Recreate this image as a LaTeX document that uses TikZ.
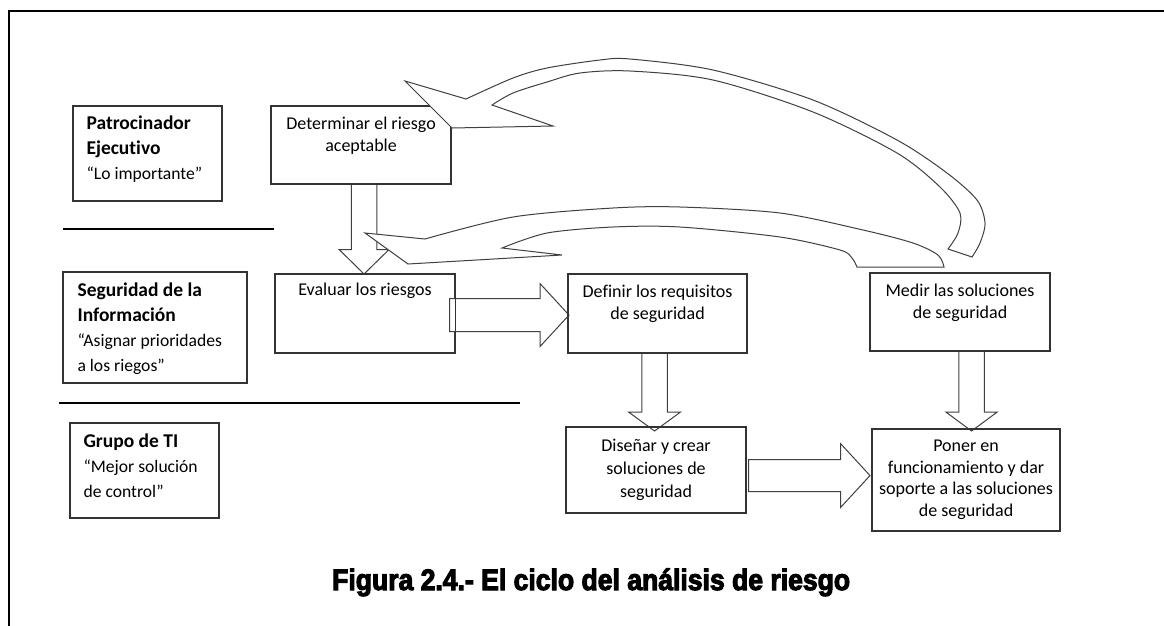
\documentclass[tikz,border=0pt]{standalone}
\usepackage{fontspec}
\setmainfont{Carlito}[Ligatures={NoCommon}]
\newfontfamily\capfont{Liberation Sans}[FakeStretch=0.9,FakeBold=3.5]
\usetikzlibrary{calc}
\newcommand\ctext[5]{\parbox[t][#2pt][t]{#1pt}{\fontsize{18}{#4pt}\selectfont\centering\rule{0pt}{#3pt}#5\par}}
\newcommand\ltext[5]{\parbox[t][#2pt][t]{#1pt}{\raggedright\leftskip=#4pt\fontsize{17.6}{25pt}\selectfont\rule{0pt}{#3pt}#5\par}}
\newcommand\hblk[5]{\draw[blk] let \p1=(#1), \p2=(#2) in (\x1,\y2-#3) -- (\x2-#5,\y2-#3) -- (\x2-#5,\y2-#4) -- (\x2,\y2) -- (\x2-#5,\y2+#4) -- (\x2-#5,\y2+#3) -- (\x1,\y2+#3) -- cycle;}
\newcommand\vblk[5]{\draw[blk] let \p1=(#1), \p2=(#2) in (\x2-#3,\y1) -- (\x2-#3,\y2+#5) -- (\x2-#4,\y2+#5) -- (\x2,\y2) -- (\x2+#4,\y2+#5) -- (\x2+#3,\y2+#5) -- (\x2+#3,\y1) -- cycle;}
\tikzset{
  bx/.style={draw=black!80, line width=1.1pt, rectangle, inner sep=0pt, anchor=north west},
  blk/.style={draw=black!75, line width=1pt, fill=white, line join=miter},
  sepline/.style={line width=2.4pt, black},
}
\begin{document}
\begin{tikzpicture}[x=1pt,y=-1pt]
\useasboundingbox (0,0) rectangle (1164,625);
\fill[white] (0,0) rectangle (1164,625);
\draw[line width=2pt] (9,640) -- (9,10.7) -- (1180,10.7);
% separators
\draw[sepline] (63,229) -- (274,229);
\draw[sepline] (59,403) -- (520,403);
% boxes
\path
  (73,106) node[bx] (pat) {\ltext{148}{94}{23}{13}{{\fontsize{19.5}{25pt}\selectfont\bfseries Patrocinador\\ Ejecutivo}\\ “Lo importante”}}
  (271,106) node[bx] (det) {\ctext{179}{77}{23}{21.7}{Determinar el riesgo\\ aceptable}}
  (63,272) node[bx] (seg) {\ltext{183}{110}{24}{14}{{\fontsize{19.5}{25pt}\selectfont\bfseries Seguridad de la\\ Información}\\ “Asignar prioridades\\ a los riegos”}}
  (275,274) node[bx] (eva) {\ctext{179}{78}{21}{21.7}{Evaluar los riesgos}}
  (568,274) node[bx] (def) {\ctext{178}{78}{23}{21.7}{Definir los requisitos\\ de seguridad}}
  (870,273) node[bx] (med) {\ctext{179}{77}{23}{21.7}{Medir las soluciones\\ de seguridad}}
  (70,423) node[bx] (gru) {\ltext{148}{94}{24}{13}{{\fontsize{19.5}{25pt}\selectfont\bfseries Grupo de TI}\\ “Mejor solución\\ de control”}}
  (566,427) node[bx] (dis) {\ctext{179}{85}{23.5}{23}{Diseñar y crear\\ soluciones de\\ seguridad}}
  (872,429) node[bx] (pon) {\ctext{187}{101}{22}{21.7}{Poner en\\ funcionamiento y dar\\ soporte a las soluciones\\ de seguridad}};
% straight block arrows
\vblk{det.south}{[xshift=-1pt]eva.north}{12.8}{25}{24.5}
\hblk{[xshift=-5.5pt]eva.east}{[xshift=1pt,yshift=-1.5pt]def.west}{16.5}{31.5}{29}
\vblk{def.south}{[xshift=-1.5pt,yshift=-4pt]dis.north}{12.7}{26}{19}
\hblk{[xshift=2.5pt]dis.east}{[xshift=-2pt,yshift=4.5pt]pon.west}{16}{32}{29.5}
\vblk{med.south}{[xshift=5.5pt,yshift=-2pt]pon.north}{12.8}{25.7}{19}
% redraw box frames on top of arrow shafts
\foreach \n in {pat,det,seg,eva,def,med,gru,dis,pon}
  \draw[draw=black!80, line width=1.1pt] (\n.north west) rectangle (\n.south east);
% curved block arrows
\draw[blk] (944,267) -- (857,267)
  -- plot[smooth] coordinates {(857,267) (852,258) (840,250) (780,237) (680,227) (613,227) (547,233) (502,248)}
  -- (562,255) -- (408,264) -- (365,233) -- (425,239)
  -- plot[smooth] coordinates {(425,239) (513,217) (613,208) (680,207) (780,213) (863,230) (913,243) (938,255) (944,267)}
  -- cycle;
\draw[blk] (972,257) -- (948,249)
  -- plot[smooth] coordinates {(948,249) (958,233) (960,213) (940,187) (897,153) (813,112) (713,80) (630,71) (580,73) (547,82) (513,93) (492,105)}
  -- (553,126) -- (452,128) -- (405,81) -- (466,99)
  -- plot[smooth] coordinates {(466,99) (513,78) (547,68) (600,60) (630,59) (713,70) (813,100) (897,140) (947,173) (977,200) (985,223) (980,243) (972,257)}
  -- cycle;
% caption
\node[anchor=base west, inner sep=0pt] (cap) at (332,590) {\capfont\bfseries\fontsize{29.5}{34pt}\selectfont Figura 2.4.- El ciclo del análisis de riesgo};
\end{tikzpicture}
\end{document}
